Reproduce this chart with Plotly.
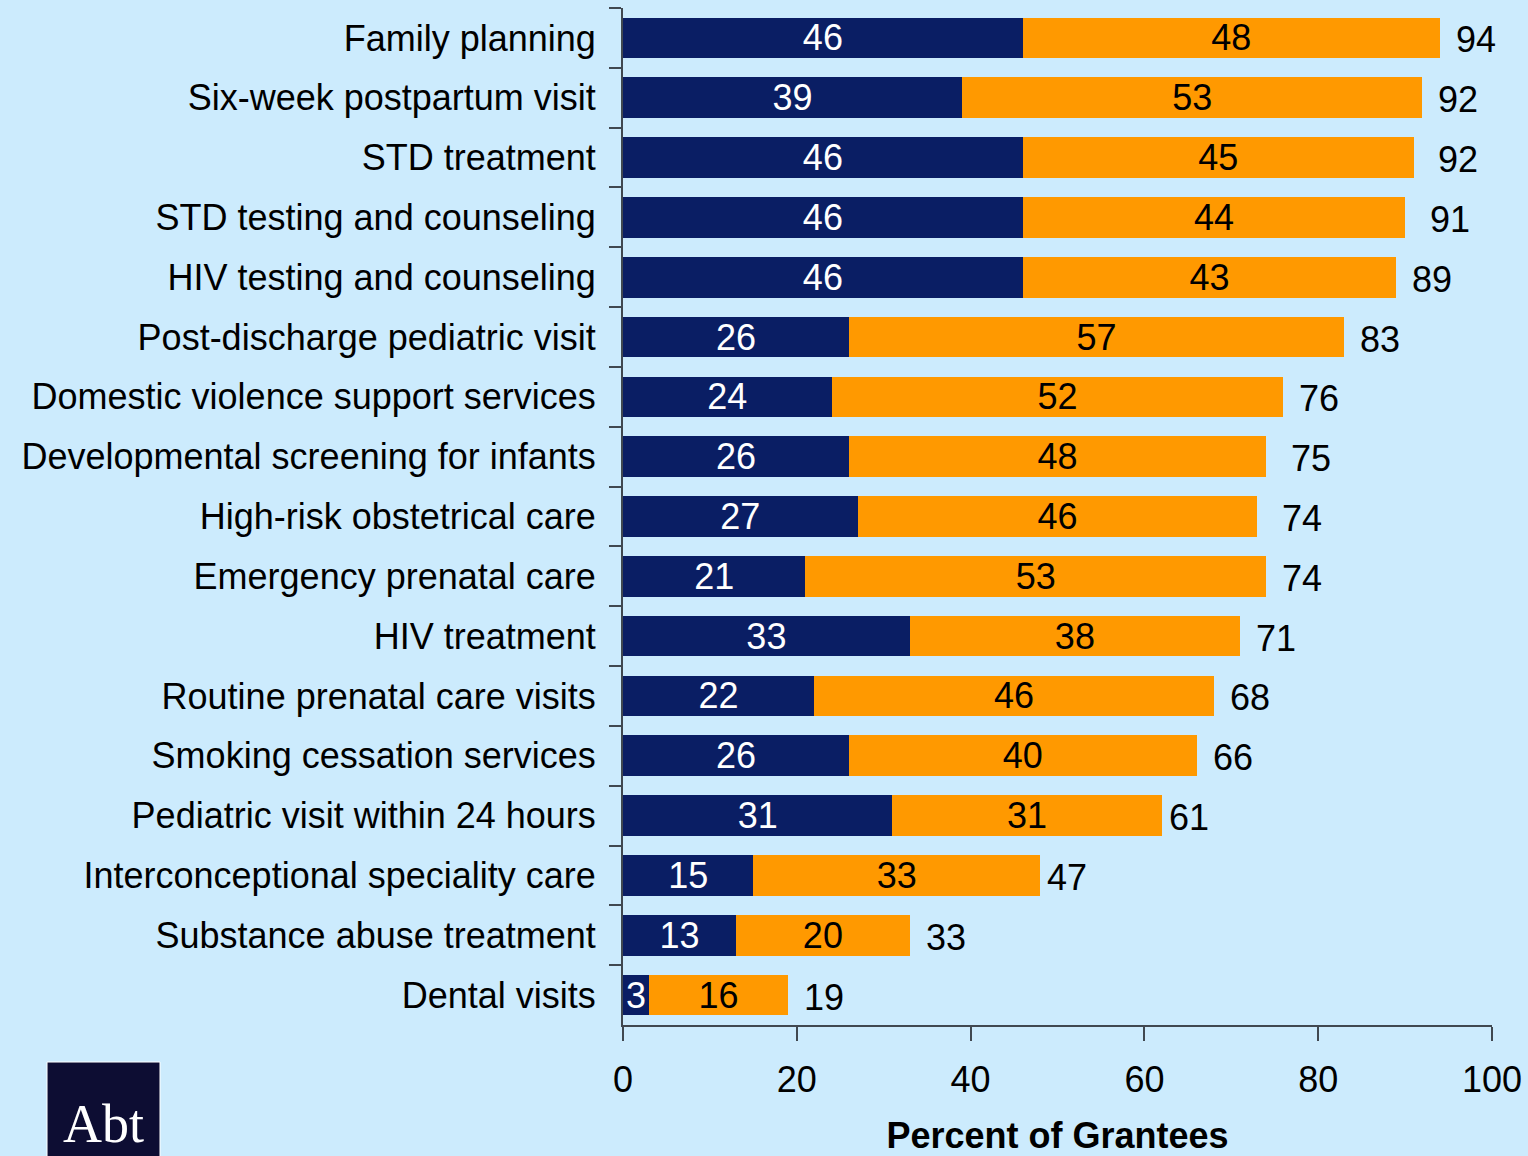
import plotly.graph_objects as go

# services, top to bottom
services = ['Family planning', 'Six-week postpartum visit', 'STD treatment',
            'STD testing and counseling', 'HIV testing and counseling',
            'Post-discharge pediatric visit', 'Domestic violence support services',
            'Developmental screening for infants', 'High-risk obstetrical care',
            'Emergency prenatal care', 'HIV treatment', 'Routine prenatal care visits',
            'Smoking cessation services', 'Pediatric visit within 24 hours',
            'Interconceptional speciality care', 'Substance abuse treatment',
            'Dental visits']
navy_vals = [46, 39, 46, 46, 46, 26, 24, 26, 27, 21, 33, 22, 26, 31, 15, 13, 3]
orange_vals = [48, 53, 45, 44, 43, 57, 52, 48, 46, 53, 38, 46, 40, 31, 33, 20, 16]
totals = [94, 92, 92, 91, 89, 83, 76, 75, 74, 74, 71, 68, 66, 61, 47, 33, 19]
x_ticks = [0, 20, 40, 60, 80, 100]

bg = '#CCEBFD'
navy = '#0A1E64'
orange = '#FF9900'
font = 'Liberation Sans, Arial, sans-serif'
fs = 36

fig = go.Figure()
fig.add_trace(go.Bar(y=services, x=navy_vals, orientation='h', marker_color=navy,
                     marker_line_width=0, text=navy_vals, textposition='inside',
                     insidetextanchor='middle', textangle=0,
                     insidetextfont=dict(color='white', size=fs, family=font)))
fig.add_trace(go.Bar(y=services, x=orange_vals, orientation='h', marker_color=orange,
                     marker_line_width=0, text=orange_vals, textposition='inside',
                     insidetextanchor='middle', textangle=0,
                     insidetextfont=dict(color='black', size=fs, family=font)))

# totals to the right of each bar
for s, t in zip(services, totals):
    fig.add_annotation(x=t, y=s, text=str(t), showarrow=False, xanchor='left',
                       xshift=14, yshift=-2, font=dict(size=fs, color='black', family=font))

fig.update_layout(
    barmode='stack', bargap=0.32, showlegend=False,
    width=1528, height=1156, paper_bgcolor=bg, plot_bgcolor=bg,
    margin=dict(l=623, r=36, t=8, b=131),
    font=dict(family=font, color='black', size=fs),
    uniformtext=dict(minsize=fs, mode='show'),
)
fig.update_yaxes(categoryorder='array', categoryarray=services, autorange='reversed',
                 showline=True, linecolor='#404850', linewidth=2, automargin=False,
                 ticks='outside', tickson='boundaries', ticklen=12, tickcolor='#404850',
                 tickwidth=2, tickfont=dict(size=fs), ticklabelstandoff=18, showgrid=False)
fig.update_xaxes(range=[0, 100], tickvals=x_ticks, showline=True, linecolor='#404850',
                 linewidth=2, ticks='outside', ticklen=14, tickcolor='#404850', tickwidth=2,
                 showgrid=False, zeroline=False, tickfont=dict(size=fs), automargin=False,
                 ticklabelstandoff=8,
                 title=dict(text='<b>Percent of Grantees</b>', font=dict(size=fs), standoff=30))

# logo block
fig.add_shape(type='rect', xref='paper', yref='paper', x0=-0.6628, x1=-0.5328,
              y0=-0.14, y1=-0.0364, fillcolor='#0D0D33', line=dict(width=1, color='white'))
fig.add_annotation(text='Abt', xref='paper', yref='paper', x=-0.5978, y=-0.1288,
                   xanchor='center', yanchor='bottom', showarrow=False,
                   font=dict(family='Liberation Serif, Times New Roman, serif',
                             size=54, color='white'))

fig.write_html('out.html', config={'displayModeBar': False},
               post_script="document.body.style.margin='0';")
